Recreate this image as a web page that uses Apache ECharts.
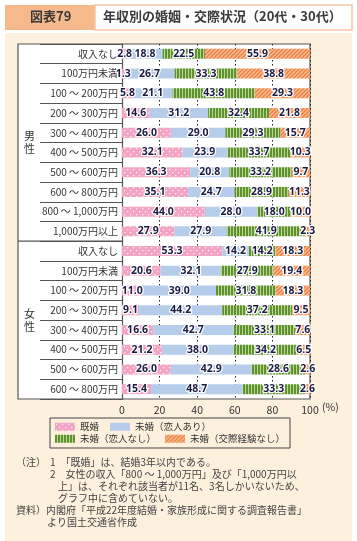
<!DOCTYPE html>
<html><head><meta charset="utf-8">
<script src="https://cdn.jsdelivr.net/npm/echarts@6/dist/echarts.min.js"></script>
<style>html,body{margin:0;padding:0;background:#fff;}#c{width:357px;height:541px;}</style>
</head><body><div id="c"></div>
<script>
// ---- data ----
const maleCategories = ['収入なし','100万円未満','100 ～ 200万円','200 ～ 300万円','300 ～ 400万円','400 ～ 500万円','500 ～ 600万円','600 ～ 800万円','800 ～ 1,000万円','1,000万円以上'];
const femaleCategories = ['収入なし','100万円未満','100 ～ 200万円','200 ～ 300万円','300 ～ 400万円','400 ～ 500万円','500 ～ 600万円','600 ～ 800万円'];
const seriesNames = ['既婚','未婚（恋人あり）','未婚（恋人なし）','未婚（交際経験なし）'];
const maleMarried   = [2.8, 1.3, 5.8, 14.6, 26.0, 32.1, 36.3, 35.1, 44.0, 27.9];
const maleWithPartner = [18.8, 26.7, 21.1, 31.2, 29.0, 23.9, 20.8, 24.7, 28.0, 27.9];
const maleNoPartner = [22.5, 33.3, 43.8, 32.4, 29.3, 33.7, 33.2, 28.9, 18.0, 41.9];
const maleNeverDated = [55.9, 38.8, 29.3, 21.8, 15.7, 10.3, 9.7, 11.3, 10.0, 2.3];
const femaleMarried = [53.3, 20.6, 11.0, 9.1, 16.6, 21.2, 26.0, 15.4];
const femaleWithPartner = [14.2, 32.1, 39.0, 44.2, 42.7, 38.0, 42.9, 48.7];
const femaleNoPartner = [14.2, 27.9, 31.8, 37.2, 33.1, 34.2, 28.6, 33.3];
const femaleNeverDated = [18.3, 19.4, 18.3, 9.5, 7.6, 6.5, 2.6, 2.6];
const xTicks = [0, 20, 40, 60, 80, 100];

// ---- build ----
const categories = maleCategories.map(c => 'M|' + c).concat(femaleCategories.map(c => 'F|' + c));
const seriesData = [
  maleMarried.concat(femaleMarried),
  maleWithPartner.concat(femaleWithPartner),
  maleNoPartner.concat(femaleNoPartner),
  maleNeverDated.concat(femaleNeverDated)
];

function makePattern(w, h, draw) {
  const cv = document.createElement('canvas');
  cv.width = w; cv.height = h;
  const ctx = cv.getContext('2d');
  draw(ctx);
  return { image: cv, repeat: 'repeat' };
}
const pinkPat = makePattern(6, 6, ctx => {
  ctx.fillStyle = '#f3a3c3'; ctx.fillRect(0,0,6,6);
  ctx.fillStyle = 'rgba(255,255,255,0.85)';
  ctx.fillRect(1,1,1.3,1.3); ctx.fillRect(4,4,1.3,1.3);
});
const greenPat = makePattern(3, 4, ctx => {
  ctx.fillStyle = '#5f9034'; ctx.fillRect(0,0,3,4);
  ctx.fillStyle = '#b9da8a'; ctx.fillRect(2,0,1,4);
});
const orangePat = makePattern(4, 4, ctx => {
  ctx.fillStyle = '#fac6a2'; ctx.fillRect(0,0,4,4);
  ctx.strokeStyle = '#ef8447'; ctx.lineWidth = 1.6;
  ctx.beginPath();
  ctx.moveTo(-1,5); ctx.lineTo(5,-1);
  ctx.moveTo(-1,1); ctx.lineTo(1,-1);
  ctx.moveTo(3,5); ctx.lineTo(5,3);
  ctx.stroke();
});
const fills = [pinkPat, '#b5cdea', greenPat, orangePat];

const FONT = '"Noto Sans CJK JP", "Noto Sans", sans-serif';
const gridTop = 44, gridBottom = 142, gridLeft = 122, gridRight = 47;
const rowH = (541 - gridTop - gridBottom) / categories.length;

const chart = echarts.init(document.getElementById('c'));
chart.setOption({
  animation: false,
  textStyle: { fontFamily: FONT },
  grid: { left: gridLeft, right: gridRight, top: gridTop, bottom: gridBottom },
  xAxis: {
    type: 'value', min: xTicks[0], max: xTicks[xTicks.length-1], interval: 20,
    axisLine: { show: false }, axisTick: { show: false },
    axisLabel: { fontSize: 10.5, color: '#333', margin: 6 },
    splitLine: { show: true, lineStyle: { color: '#222', type: [1.5, 2.5], width: 1 } }
  },
  yAxis: {
    type: 'category', inverse: true, data: categories,
    axisLine: { show: true, lineStyle: { color: '#555', width: 1.2 } },
    axisTick: { show: true, length: 82, lineStyle: { color: '#555', width: 1.2 } },
    axisLabel: { fontSize: 10, color: '#333', margin: 4, formatter: v => v.split('|')[1] }
  },
  legend: [
    { data: seriesNames.slice(0,2), left: 55, top: 422, itemWidth: 20, itemHeight: 8, itemGap: 11,
      textStyle: { fontSize: 9.5, color: '#333', fontFamily: FONT }, icon: 'rect', padding: 0 },
    { data: seriesNames.slice(2,4), left: 55, top: 434, itemWidth: 20, itemHeight: 8, itemGap: 9,
      textStyle: { fontSize: 9.5, color: '#333', fontFamily: FONT }, icon: 'rect', padding: 0 }
  ],
  series: seriesNames.map((name, i) => ({
    name, type: 'bar', stack: 'all', barWidth: 10,
    data: seriesData[i],
    itemStyle: { color: fills[i] },
    label: {
      show: true, position: 'inside', formatter: p => p.value.toFixed(1),
      fontSize: 10.5, fontWeight: 'bold', color: '#1c1c44',
      textBorderColor: '#fff', textBorderWidth: 2.5, fontFamily: '"Noto Sans", sans-serif'
    }
  })),
  graphic: [
    { type: 'rect', z: -20, shape: { x: 5, y: 33, width: 347, height: 508 }, style: { fill: '#fdf0dd' } },
    { type: 'rect', z: -10, shape: { x: 18, y: gridTop, width: 357 - gridRight - 18, height: rowH * categories.length }, style: { fill: '#fff', stroke: '#555', lineWidth: 1.2 } },
    { type: 'line', z: 5, shape: { x1: 18, y1: gridTop + rowH * maleCategories.length, x2: gridLeft, y2: gridTop + rowH * maleCategories.length }, style: { stroke: '#555', lineWidth: 1.2 } },
    { type: 'text', left: 24, top: gridTop + rowH * maleCategories.length / 2 - 13, style: { text: '男\n性', font: '11px ' + FONT, fill: '#333', lineHeight: 13 } },
    { type: 'text', left: 24, top: gridTop + rowH * (maleCategories.length + femaleCategories.length / 2) - 13, style: { text: '女\n性', font: '11px ' + FONT, fill: '#333', lineHeight: 13 } },
    { type: 'text', left: 322, top: 402, style: { text: '(%)', font: '10.5px ' + FONT, fill: '#333' } },
    { type: 'rect', shape: { x: 50, y: 418, width: 240, height: 30 }, style: { fill: 'none', stroke: '#444', lineWidth: 1 } },
    // title
    { type: 'rect', shape: { x: 5, y: 5, width: 90, height: 25 }, style: { fill: '#f6b98c' } },
    { type: 'rect', shape: { x: 95, y: 5, width: 257, height: 25 }, style: { fill: '#fff', stroke: '#f7c6a4', lineWidth: 1.5 } },
    { type: 'text', left: 30, top: 10, style: { text: '図表79', font: 'bold 13px ' + FONT, fill: '#3a3a3a' } },
    { type: 'text', left: 103, top: 10, style: { text: '年収別の婚姻・交際状況（20代・30代）', font: 'bold 13px ' + FONT, fill: '#3a3a3a' } },
    // notes
    { type: 'text', left: 16, top: 457, style: { text: '（注）', font: '10px ' + FONT, fill: '#444' } },
    { type: 'text', left: 50, top: 457, style: { text: '1　「既婚」は、結婚3年以内である。', font: '10px ' + FONT, fill: '#444' } },
    { type: 'text', left: 50, top: 469, style: { text: '2　女性の収入「800 ～ 1,000万円」及び「1,000万円以', font: '10px ' + FONT, fill: '#444' } },
    { type: 'text', left: 58, top: 481, style: { text: '上」は、それぞれ該当者が11名、3名しかいないため、', font: '10px ' + FONT, fill: '#444' } },
    { type: 'text', left: 58, top: 493, style: { text: 'グラフ中に含めていない。', font: '10px ' + FONT, fill: '#444' } },
    { type: 'text', left: 16, top: 505, style: { text: '資料）内閣府「平成22年度結婚・家族形成に関する調査報告書」', font: '10px ' + FONT, fill: '#444' } },
    { type: 'text', left: 47, top: 517, style: { text: 'より国土交通省作成', font: '10px ' + FONT, fill: '#444' } }
  ]
});
</script>
</body></html>
